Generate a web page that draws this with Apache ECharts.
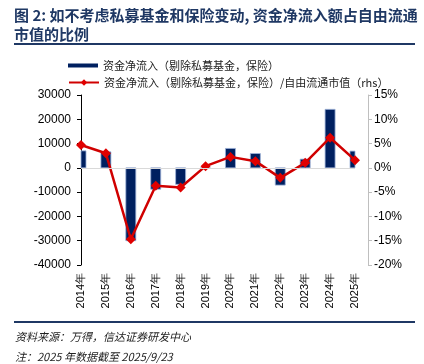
<!DOCTYPE html>
<html>
<head>
<meta charset="utf-8">
<script src="https://cdn.jsdelivr.net/npm/echarts@6/dist/echarts.min.js"></script>
<style>
  html, body { margin: 0; padding: 0; background: #fff; }
  #chart { width: 424px; height: 364px; }
</style>
</head>
<body>
<div id="chart"></div>
<script>
const years = ['2014年','2015年','2016年','2017年','2018年','2019年','2020年','2021年','2022年','2023年','2024年','2025年'];
const netInflow = [7000, 6600, -30000, -8800, -6800, 0, 8000, 5900, -7100, 3600, 24100, 6900];
const inflowRatio = [4.7, 3.0, -14.7, -3.7, -4.05, 0.35, 2.26, 1.38, -2.06, 1.03, 6.2, 1.58];

const barName = '资金净流入（剔除私募基金，保险）';
const lineName = '资金净流入（剔除私募基金，保险）/自由流通市值（rhs）';
const cjk = '"Noto Sans CJK SC", sans-serif';
const latin = '"Liberation Sans", Arial, sans-serif';
const navy = '#1f3864';

const chart = echarts.init(document.getElementById('chart'));

// bars are drawn as a custom series so the half bar at the axis gets clipped like the original
function renderBar(params, api) {
  const top = api.coord([api.value(0), api.value(1)]);
  const base = api.coord([api.value(0), 0]);
  const w = 10;
  const cs = params.coordSys;
  const rect = echarts.graphic.clipRectByRect({
    x: top[0] - w / 2,
    y: Math.min(top[1], base[1]),
    width: w,
    height: Math.abs(base[1] - top[1])
  }, { x: cs.x, y: cs.y, width: cs.width, height: cs.height });
  if (!rect) return;
  return {
    type: 'rect',
    shape: rect,
    style: { fill: '#002060', stroke: '#9db3d9', lineWidth: 0.8 }
  };
}

const option = {
  animation: false,
  title: {
    text: '图 2: 如不考虑私募基金和保险变动, 资金净流入额占自由流通\n市值的比例',
    left: 14,
    top: 6,
    padding: 0,
    textStyle: { fontFamily: cjk, fontSize: 15, fontWeight: 'bold', color: navy, lineHeight: 19 }
  },
  legend: [{
    data: [{ name: barName, icon: 'rect' }],
    left: 63,
    top: 55,
    itemWidth: 30,
    itemHeight: 4,
    itemGap: 6,
    textStyle: { fontFamily: cjk, fontSize: 11, color: '#222' }
  }, {
    data: [lineName],
    left: 63,
    top: 72,
    itemWidth: 30,
    itemHeight: 8,
    itemGap: 6,
    textStyle: { fontFamily: cjk, fontSize: 11, color: '#222' }
  }],
  grid: { left: 81, right: 69, top: 95, bottom: 99 },
  xAxis: {
    type: 'category',
    data: years,
    boundaryGap: false,
    axisLine: { show: false },
    axisTick: { show: false },
    axisLabel: { rotate: 90, fontSize: 11, color: '#000', margin: 8, fontFamily: latin }
  },
  yAxis: [{
    type: 'value',
    min: -40000,
    max: 30000,
    interval: 10000,
    splitLine: { show: false },
    axisLine: { show: true, lineStyle: { color: '#000', width: 1 } },
    axisTick: { show: true, length: 4, lineStyle: { color: '#000' } },
    axisLabel: { fontSize: 12, color: '#000', margin: 10, fontFamily: latin, formatter: v => String(v) }
  }, {
    type: 'value',
    min: -20,
    max: 15,
    interval: 5,
    offset: 13,
    splitLine: { show: false },
    axisLine: { show: true, lineStyle: { color: '#bfbfbf', width: 1 } },
    axisTick: { show: true, length: 4, lineStyle: { color: '#bfbfbf' } },
    axisLabel: { fontSize: 12, color: '#000', margin: 6, formatter: '{value}%', fontFamily: latin }
  }],
  series: [{
    name: barName,
    type: 'custom',
    renderItem: renderBar,
    encode: { x: 0, y: 1 },
    data: years.map((y, i) => [i, netInflow[i]]),
    itemStyle: { color: '#002060' },
    markLine: {
      silent: true,
      symbol: 'none',
      label: { show: false },
      lineStyle: { color: '#d9d9d9', type: 'solid', width: 1 },
      data: [{ yAxis: 0 }]
    },
    z: 2
  }, {
    name: lineName,
    type: 'line',
    yAxisIndex: 1,
    data: inflowRatio,
    symbol: 'diamond',
    symbolSize: 10,
    lineStyle: { color: '#d00000', width: 2.5 },
    itemStyle: { color: '#e00000' },
    z: 3
  }],
  graphic: [{
    type: 'line',
    shape: { x1: 14, y1: 44, x2: 415, y2: 44 },
    style: { stroke: navy, lineWidth: 2 }
  }, {
    type: 'line',
    shape: { x1: 14, y1: 322, x2: 415, y2: 322 },
    style: { stroke: navy, lineWidth: 2 }
  }, {
    type: 'text',
    left: 15,
    top: 331,
    style: { text: '资料来源：万得，信达证券研发中心', fontFamily: cjk, fontSize: 11, fontStyle: 'italic', fill: '#222' }
  }, {
    type: 'text',
    left: 15,
    top: 351,
    style: { text: '注：2025 年数据截至 2025/9/23', fontFamily: cjk, fontSize: 11, fontStyle: 'italic', fill: '#222' }
  }]
};

chart.setOption(option);
</script>
</body>
</html>
